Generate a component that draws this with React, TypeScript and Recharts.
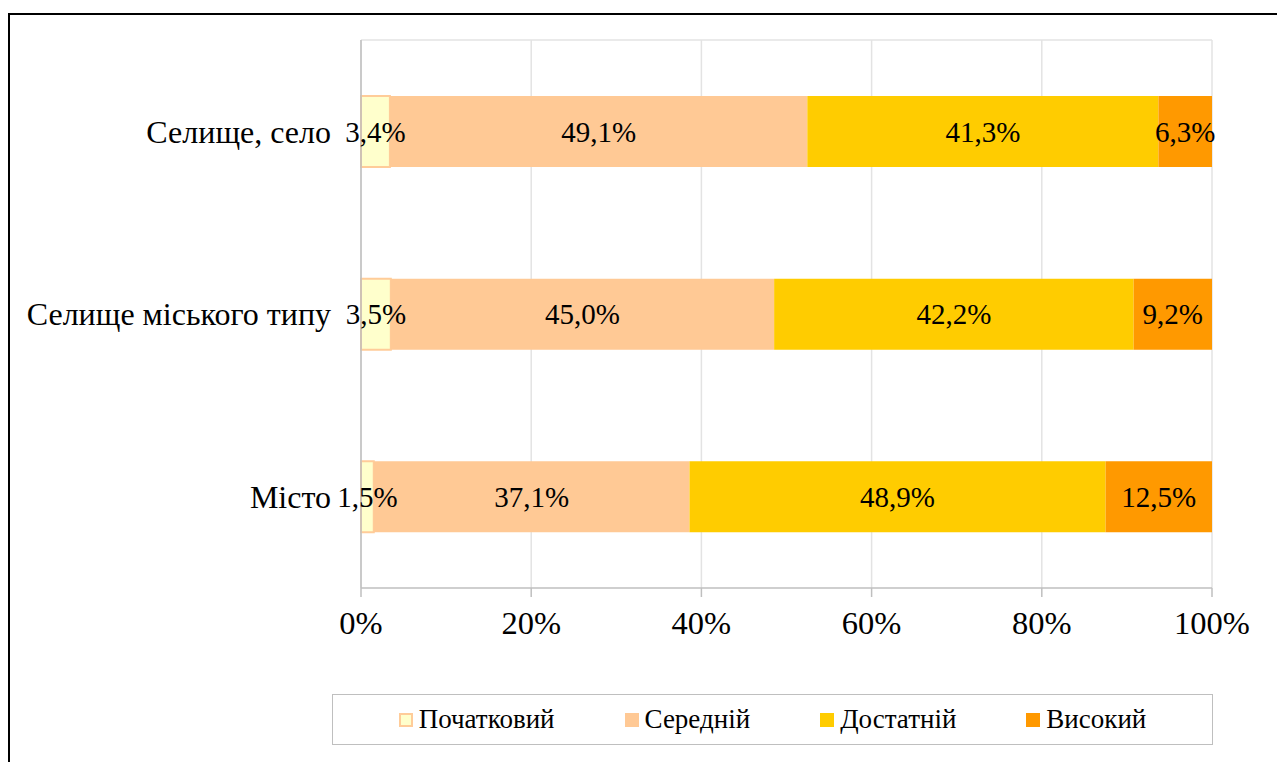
import { BarChart, Bar, XAxis, YAxis, CartesianGrid, Legend, LabelList } from "recharts";

const categories = ["Селище, село", "Селище міського типу", "Місто"];
const initialLevel = [3.4, 3.5, 1.5];
const mediumLevel = [49.1, 45.0, 37.1];
const sufficientLevel = [41.3, 42.2, 48.9];
const highLevel = [6.3, 9.2, 12.5];
const xTicks = [0, 0.2, 0.4, 0.6, 0.8, 1];

const series = [
  { key: "initial", name: "Початковий", fill: "#FFFFCC", stroke: "#FFCC99" },
  { key: "medium", name: "Середній", fill: "#FFC995", stroke: "none" },
  { key: "sufficient", name: "Достатній", fill: "#FFCC00", stroke: "none" },
  { key: "high", name: "Високий", fill: "#FF9900", stroke: "none" },
];

const data = categories.map((name, i) => ({
  name,
  initial: initialLevel[i],
  medium: mediumLevel[i],
  sufficient: sufficientLevel[i],
  high: highLevel[i],
}));

const FONT = "Liberation Serif, Times New Roman, serif";

const fmtPct = (v: number) => `${Number(v).toFixed(1).replace(".", ",")}%`;

function LegendBox() {
  return (
    <div
      style={{
        boxSizing: "border-box",
        height: 51,
        border: "1.5px solid #BFBFBF",
        display: "flex",
        alignItems: "center",
        justifyContent: "center",
        gap: 70,
        fontFamily: FONT,
        fontSize: 27,
        color: "#000",
      }}
    >
      {series.map((s) => (
        <div key={s.key} style={{ display: "flex", alignItems: "center", gap: 6 }}>
          <span
            style={{
              boxSizing: "border-box",
              width: 14,
              height: 14,
              background: s.fill,
              border: s.stroke === "none" ? "none" : `2px solid ${s.stroke}`,
            }}
          />
          <span>{s.name}</span>
        </div>
      ))}
    </div>
  );
}

export default function App() {
  return (
    <>
      <div
        style={{
          position: "fixed",
          left: 8,
          top: 13,
          width: 1400,
          height: 900,
          border: "2px solid #000",
          background: "#fff",
        }}
      />
      <div style={{ position: "fixed", left: 0, top: 0, fontFamily: FONT }}>
        <BarChart
          width={1277}
          height={762}
          data={data}
          layout="vertical"
          stackOffset="expand"
          barSize={71}
          margin={{ top: 40, right: 65, left: 0, bottom: 17 }}
          style={{ fontFamily: FONT }}
        >
          <CartesianGrid
            stroke="#E3E3E3"
            strokeWidth={1.5}
            horizontalCoordinatesGenerator={({ offset }: any) => [offset.top]}
          />
          <XAxis
            type="number"
            domain={[0, 1]}
            ticks={xTicks}
            tickFormatter={(v: number) => `${Math.round(v * 100)}%`}
            height={106}
            tickSize={9}
            tickMargin={14}
            stroke="#BFBFBF"
            strokeWidth={1.5}
            tick={{ fontFamily: FONT, fontSize: 32.5, fill: "#000" }}
          />
          <YAxis
            type="category"
            dataKey="name"
            width={361}
            tickSize={0}
            tickMargin={30}
            tickLine={false}
            stroke="#BFBFBF"
            strokeWidth={1.5}
            tick={{ fontFamily: FONT, fontSize: 32, fill: "#000" }}
          />
          <Legend
            verticalAlign="bottom"
            content={() => <LegendBox />}
            wrapperStyle={{ left: 332, width: 881 }}
          />
          {series.map((s) => (
            <Bar
              key={s.key}
              dataKey={s.key}
              name={s.name}
              stackId="a"
              fill={s.fill}
              stroke={s.stroke}
              strokeWidth={s.stroke === "none" ? 0 : 2}
              isAnimationActive={false}
            >
              <LabelList
                dataKey={s.key}
                position="center"
                formatter={(v: any) => fmtPct(v)}
                style={{ fontFamily: FONT, fontSize: 29, fill: "#000" }}
              />
            </Bar>
          ))}
        </BarChart>
      </div>
    </>
  );
}
